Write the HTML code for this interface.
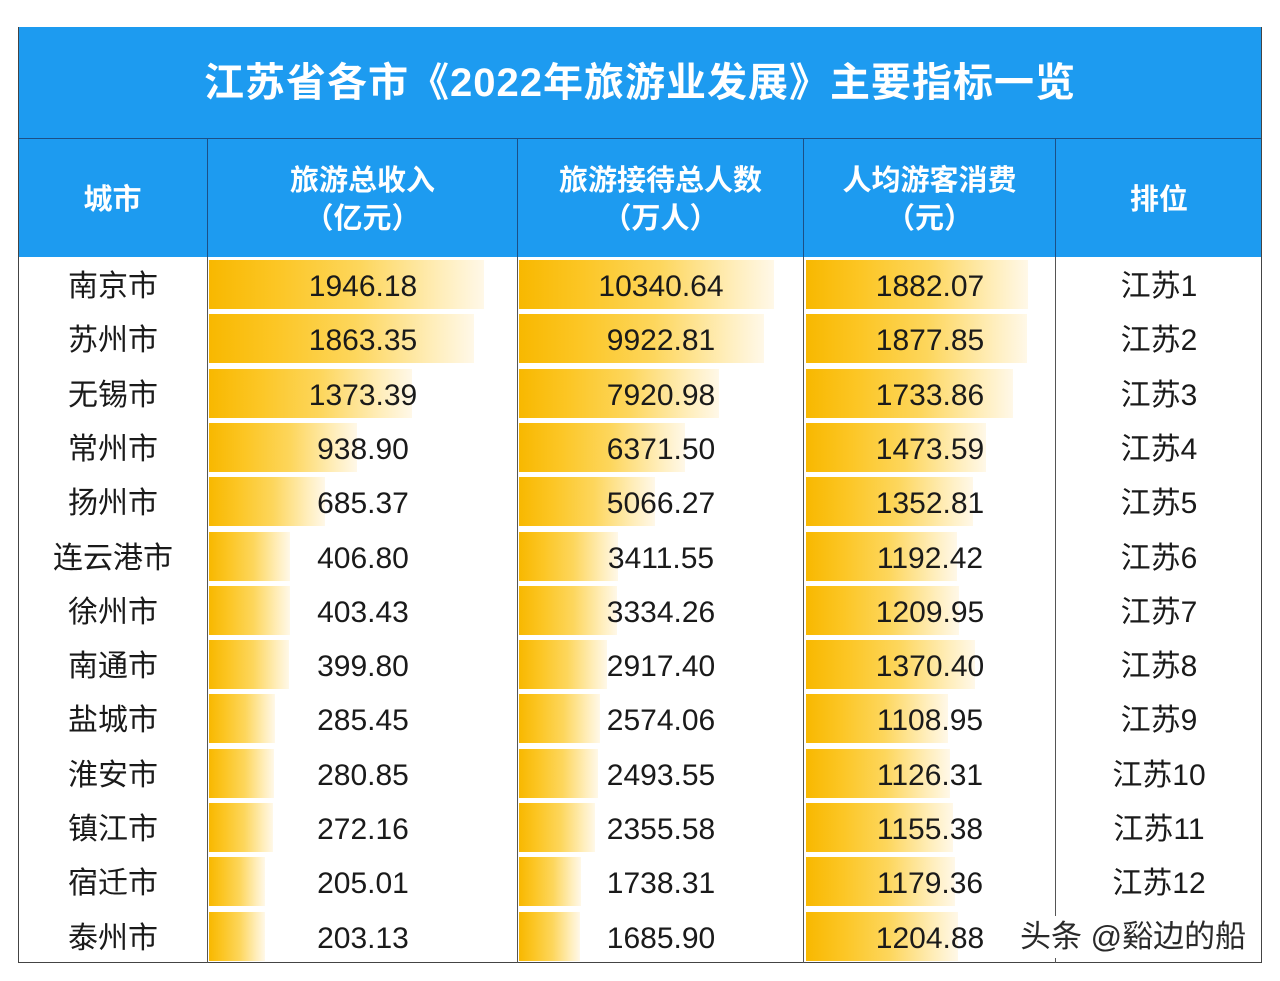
<!DOCTYPE html>
<html><head><meta charset="utf-8"><style>
body{margin:0;width:1280px;height:981px;background:#fff;position:relative;overflow:hidden;font-family:"Liberation Sans","Noto Sans CJK SC",sans-serif}
.a{position:absolute}
.title{left:18px;top:27px;width:1244px;height:111px;background:#1d9bf0;color:#fff;font-size:40px;font-weight:bold;line-height:113px;text-align:center;letter-spacing:1px}
.hd{top:139px;height:118px;background:#1d9bf0;color:#fff;font-size:29px;font-weight:bold;display:flex;align-items:center;justify-content:center;text-align:center;line-height:38px;border-right:1px solid #1c4f86;box-sizing:border-box;padding-top:4px}
.vl{width:1px;background:#555;top:257px;height:706px}
.cell{height:54.3px;line-height:60px;text-align:center;font-size:30px;color:#1a1a1a}
.bar{background:linear-gradient(90deg,#f8b800 0%,#fcc625 25%,#fdd65c 55%,#ffeebc 85%,#fff8e8 100%)}
</style></head><body>
<div class="a title">江苏省各市《2022年旅游业发展》主要指标一览</div>
<div class="a" style="left:18px;top:138px;width:1244px;height:1px;background:#1c4f86"></div>
<div class="a hd" style="left:18px;width:190px">城市</div>
<div class="a hd" style="left:208px;width:310px">旅游总收入<br>（亿元）</div>
<div class="a hd" style="left:518px;width:286px">旅游接待总人数<br>（万人）</div>
<div class="a hd" style="left:804px;width:252px">人均游客消费<br>（元）</div>
<div class="a hd" style="left:1056px;width:206px;border-right:none">排位</div>
<div class="a" style="left:18px;top:27px;width:1244px;height:936px;border:1px solid #444;box-sizing:border-box;border-top:none"></div>
<div class="a vl" style="left:207px"></div>
<div class="a vl" style="left:517px"></div>
<div class="a vl" style="left:803px"></div>
<div class="a vl" style="left:1055px"></div>
<div id="rows"></div>
<div class="a" style="left:1018px;top:916px;font-size:31px;color:#2a2a2a;background:#fff;padding:0 2px;line-height:42px">头条 @谿边的船</div>
<script>
var d=[["南京市",1946.18,10340.64,1882.07],["苏州市",1863.35,9922.81,1877.85],["无锡市",1373.39,7920.98,1733.86],["常州市",938.90,6371.50,1473.59],["扬州市",685.37,5066.27,1352.81],["连云港市",406.80,3411.55,1192.42],["徐州市",403.43,3334.26,1209.95],["南通市",399.80,2917.40,1370.40],["盐城市",285.45,2574.06,1108.95],["淮安市",280.85,2493.55,1126.31],["镇江市",272.16,2355.58,1155.38],["宿迁市",205.01,1738.31,1179.36],["泰州市",203.13,1685.90,1204.88]];
var h="";
for(var i=0;i<13;i++){var y=257+i*54.3,r=d[i];
var w1=30+0.126*r[1],w2=23+0.0224*r[2],w3=28+0.103*r[3];
h+='<div class="a bar" style="left:209px;top:'+(y+3)+'px;width:'+w1+'px;height:49px"></div>';
h+='<div class="a bar" style="left:519px;top:'+(y+3)+'px;width:'+w2+'px;height:49px"></div>';
h+='<div class="a bar" style="left:806px;top:'+(y+3)+'px;width:'+w3+'px;height:49px"></div>';
h+='<div class="a cell" style="left:18px;top:'+y+'px;width:190px">'+r[0]+'</div>';
h+='<div class="a cell" style="left:208px;top:'+y+'px;width:310px">'+r[1].toFixed(2)+'</div>';
h+='<div class="a cell" style="left:518px;top:'+y+'px;width:286px">'+r[2].toFixed(2)+'</div>';
h+='<div class="a cell" style="left:804px;top:'+y+'px;width:252px">'+r[3].toFixed(2)+'</div>';
if(i<12)h+='<div class="a cell" style="left:1056px;top:'+y+'px;width:206px">江苏'+(i+1)+'</div>';}
document.getElementById("rows").innerHTML=h;
</script>
</body></html>
